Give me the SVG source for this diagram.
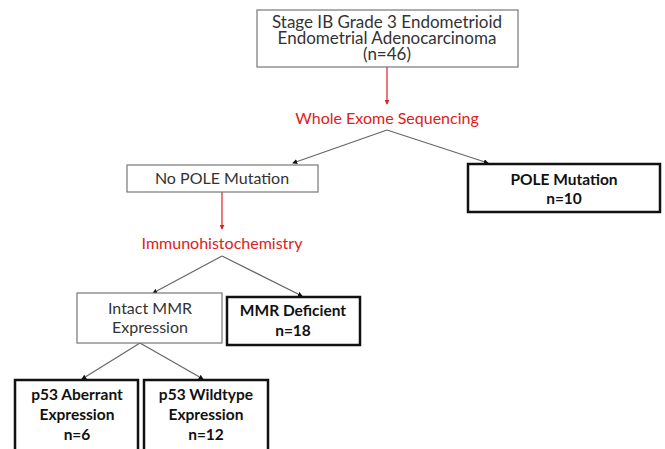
<svg xmlns="http://www.w3.org/2000/svg" width="665" height="449" viewBox="0 0 665 449">
<style>
.t{font-family:Lato,"Liberation Sans",sans-serif;font-size:16px;fill:#333;text-anchor:middle}
.h{font-family:Lato,"Liberation Sans",sans-serif;font-size:17px;fill:#333;text-anchor:middle}
.b{font-family:Lato,"Liberation Sans",sans-serif;font-size:15.5px;font-weight:bold;fill:#111;text-anchor:middle}
.r{font-family:Lato,"Liberation Sans",sans-serif;font-size:16px;fill:#e02020;text-anchor:middle}
.thin{fill:#fff;stroke:#777;stroke-width:1.2}
.thick{fill:#fff;stroke:#111;stroke-width:2.5}
.ln{stroke:#666;stroke-width:1.2;fill:none;marker-end:url(#ah)}
.rl{stroke:#e02020;stroke-width:1.2;fill:none;marker-end:url(#ahr)}
</style>
<defs>
<marker id="ah" viewBox="0 0 6 6" refX="5" refY="3" markerWidth="5" markerHeight="5" orient="auto" markerUnits="userSpaceOnUse"><path d="M0,0L6,3L0,6z" fill="#111"/></marker>
<marker id="ahr" viewBox="0 0 6 6" refX="5" refY="3" markerWidth="5" markerHeight="5" orient="auto" markerUnits="userSpaceOnUse"><path d="M0,0L6,3L0,6z" fill="#e02020"/></marker>
</defs>
<rect width="665" height="449" fill="#fff"/>
<g id="connectors">
<path class="rl" d="M387,67V104"/>
<text class="r" x="387" y="124">Whole Exome Sequencing</text>
<path class="ln" d="M387,130L293,163"/>
<path class="ln" d="M387,130L488,163"/>
<path class="rl" d="M222,192V229"/>
<text class="r" x="222" y="249">Immunohistochemistry</text>
<path class="ln" d="M222,256L153,293"/>
<path class="ln" d="M222,256L302,296"/>
<path class="ln" d="M140,343L82,379"/>
<path class="ln" d="M140,343L203,379"/>
</g>
<g id="root">
<rect class="thin" x="257" y="10" width="261" height="57"/>
<text class="h"><tspan x="387" y="28">Stage IB Grade 3 Endometrioid</tspan><tspan x="387" y="44">Endometrial Adenocarcinoma</tspan><tspan x="387" y="60">(n=46)</tspan></text>
</g>
<g id="no-pole">
<rect class="thin" x="127" y="165" width="191" height="27"/>
<text class="t" x="222" y="184">No POLE Mutation</text>
</g>
<g id="pole">
<rect class="thick" x="468" y="164" width="192" height="48"/>
<text class="b"><tspan x="564" y="185">POLE Mutation</tspan><tspan x="564" y="204">n=10</tspan></text>
</g>
<g id="intact-mmr">
<rect class="thin" x="77" y="293" width="145" height="50"/>
<text class="t"><tspan x="150" y="314">Intact MMR</tspan><tspan x="150" y="333">Expression</tspan></text>
</g>
<g id="mmr-deficient">
<rect class="thick" x="227" y="297" width="133" height="48"/>
<text class="b"><tspan x="293" y="316">MMR Deficient</tspan><tspan x="293" y="336">n=18</tspan></text>
</g>
<g id="p53-aberrant">
<rect class="thick" x="15" y="380" width="123" height="75"/>
<text class="b"><tspan x="77" y="400">p53 Aberrant</tspan><tspan x="77" y="420">Expression</tspan><tspan x="77" y="440">n=6</tspan></text>
</g>
<g id="p53-wildtype">
<rect class="thick" x="144" y="380" width="124" height="75"/>
<text class="b"><tspan x="206" y="400">p53 Wildtype</tspan><tspan x="206" y="420">Expression</tspan><tspan x="206" y="440">n=12</tspan></text>
</g>
</svg>
